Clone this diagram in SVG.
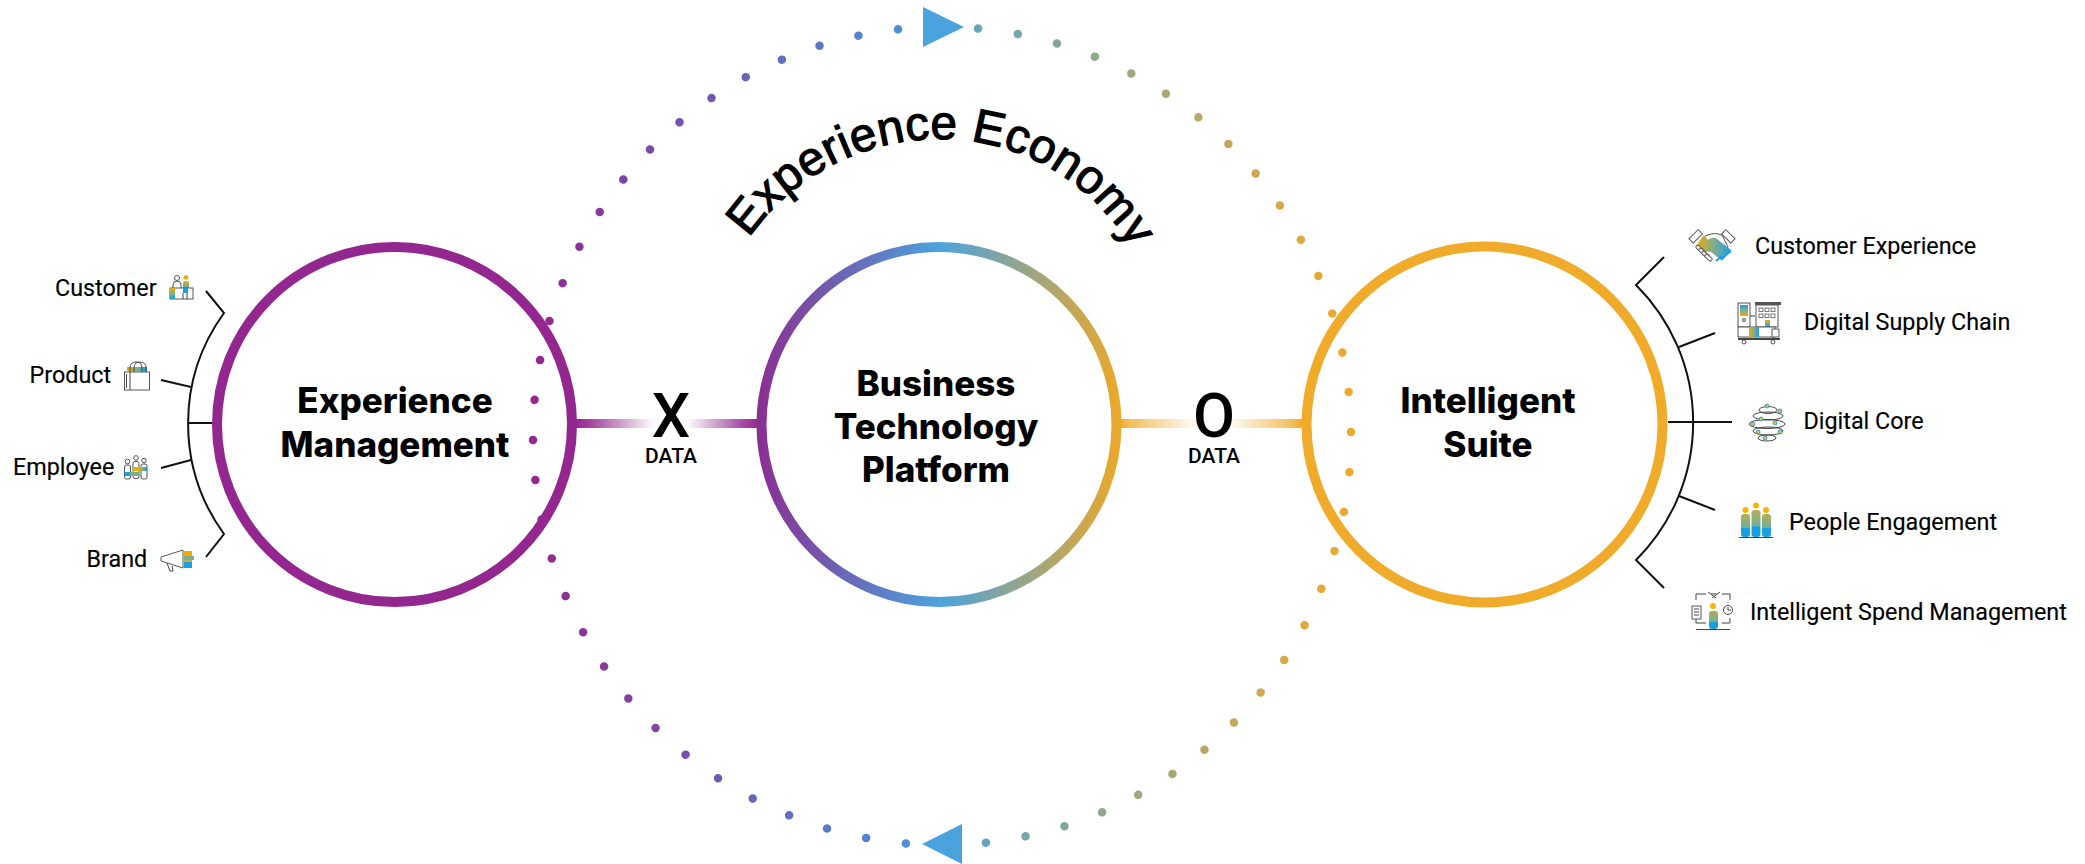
<svg xmlns="http://www.w3.org/2000/svg" width="2085" height="864" viewBox="0 0 2085 864">
<style>
.lab{font-family:"Roboto","Liberation Sans",sans-serif;font-size:23.35px;fill:#000;stroke:#000;stroke-width:.15}
.big{font-family:"Inter","Liberation Sans",sans-serif;font-size:35px;font-weight:800;fill:#000;text-anchor:middle}
.op{font-family:"Roboto","Liberation Sans",sans-serif;font-size:61px;font-weight:500;fill:#000;text-anchor:middle}
.dat{font-family:"Roboto","Liberation Sans",sans-serif;font-size:21px;font-weight:500;fill:#000;text-anchor:middle}
.arc{font-family:"Liberation Sans",Arial,sans-serif;font-size:47.5px;letter-spacing:.3px;fill:#000;stroke:#000;stroke-width:1.2}
.br{fill:none;stroke:#111;stroke-width:2}
.ic{fill:#fff;stroke:#555;stroke-width:1}
.ink{fill:none;stroke:#444;stroke-width:1}
.tri{fill:#4ba3de}
</style>
<defs>
<linearGradient id="ringG" gradientUnits="userSpaceOnUse" x1="758" y1="0" x2="1120" y2="0"><stop offset="0" stop-color="#8a2f92"/><stop offset=".5" stop-color="#4ba3de"/><stop offset="1" stop-color="#eba829"/></linearGradient>
<linearGradient id="dotG" gradientUnits="userSpaceOnUse" x1="533" y1="0" x2="1352" y2="0"><stop offset="0" stop-color="#93278f"/><stop offset=".45" stop-color="#4b8fd6"/><stop offset=".55" stop-color="#66a6b8"/><stop offset="1" stop-color="#f0a92b"/></linearGradient>
<linearGradient id="xL"><stop offset="0" stop-color="#93278f"/><stop offset=".2" stop-color="#93278f" stop-opacity=".8"/><stop offset=".8" stop-color="#93278f" stop-opacity=".03"/><stop offset="1" stop-color="#93278f" stop-opacity="0"/></linearGradient>
<linearGradient id="xR" x1="1" x2="0"><stop offset="0" stop-color="#93278f"/><stop offset=".2" stop-color="#93278f" stop-opacity=".8"/><stop offset=".8" stop-color="#93278f" stop-opacity=".03"/><stop offset="1" stop-color="#93278f" stop-opacity="0"/></linearGradient>
<linearGradient id="oL"><stop offset="0" stop-color="#f0ab2a"/><stop offset=".12" stop-color="#f0ab2a" stop-opacity=".75"/><stop offset=".75" stop-color="#f0ab2a" stop-opacity=".1"/><stop offset="1" stop-color="#f0ab2a" stop-opacity="0"/></linearGradient>
<linearGradient id="oR" x1="1" x2="0"><stop offset="0" stop-color="#f0ab2a"/><stop offset=".12" stop-color="#f0ab2a" stop-opacity=".75"/><stop offset=".75" stop-color="#f0ab2a" stop-opacity=".1"/><stop offset="1" stop-color="#f0ab2a" stop-opacity="0"/></linearGradient>
<linearGradient id="v" x1="0" y1="0" x2="0" y2="1"><stop offset="0" stop-color="#f0ab00"/><stop offset=".5" stop-color="#7fae8c"/><stop offset="1" stop-color="#1a9fe0"/></linearGradient>
<linearGradient id="h"><stop offset="0" stop-color="#f0ab00"/><stop offset=".5" stop-color="#7fae8c"/><stop offset="1" stop-color="#1a9fe0"/></linearGradient>
<linearGradient id="p" x1="0" y1="0" x2="0" y2="1"><stop offset="0" stop-color="#b5ae55"/><stop offset=".6" stop-color="#6fb09a"/><stop offset=".62" stop-color="#1a9fe0"/><stop offset="1" stop-color="#1a9fe0"/></linearGradient>
<path id="arcP" d="M749 238 A232 232 0 0 1 940 139 A222 222 0 0 1 1155 306"/>
</defs>
<rect width="2085" height="864" fill="#fff"/>

<g id="connectors">
<rect x="576" y="419" width="95" height="9" fill="url(#xL)"/>
<rect x="671" y="419" width="87" height="9" fill="url(#xR)"/>
<rect x="1120" y="419" width="93" height="9" fill="url(#oL)"/>
<rect x="1213" y="419" width="89" height="9" fill="url(#oR)"/>
<path class="br" d="M206 291 L224 313 A188 188 0 0 0 224 534 L206 557"/>
<path class="br" d="M188 423H212M161 380L191 387M161 468L191 460"/>
<path class="br" d="M1664 257 L1636 285 A194 194 0 0 1 1636 560 L1664 588"/>
<path class="br" d="M1668 422H1732M1679 347L1715 333M1679 496L1715 510"/>
</g>

<g id="node-experience-management">
<circle cx="394.500" cy="424.500" r="177.500" fill="#fff" stroke="#93278f" stroke-width="10"/>
<text class="big"><tspan x="395" y="413">Experience</tspan><tspan x="395" y="457">Management</tspan></text>
</g>
<g id="node-business-technology-platform">
<circle cx="939" cy="424.500" r="177.500" fill="#fff" stroke="url(#ringG)" stroke-width="10"/>
<text class="big"><tspan x="936" y="396">Business</tspan><tspan x="936" y="439">Technology</tspan><tspan x="936" y="482">Platform</tspan></text>
</g>
<g id="node-intelligent-suite">
<circle cx="1484.500" cy="424.500" r="178" fill="#fff" stroke="#f0ab2a" stroke-width="10"/>
<text class="big"><tspan x="1488" y="413">Intelligent</tspan><tspan x="1488" y="457">Suite</tspan></text>
</g>

<g id="node-x-data"><text class="op" x="671" y="437">X</text><text class="dat" x="671" y="463">DATA</text></g>
<g id="node-o-data"><text class="op" x="1214" y="437">O</text><text class="dat" x="1214" y="463">DATA</text></g>

<g id="experience-cycle">
<circle cx="942" cy="436" r="409" fill="none" stroke="url(#dotG)" stroke-width="8.500" stroke-linecap="round" pathLength="64" stroke-dasharray="0 1" transform="rotate(-.55 942 436)"/>
<polygon class="tri" points="923,7 923,47 964,27"/>
<polygon class="tri" points="962,824 962,864 922,844"/>
</g>
<g id="node-experience-economy"><text class="arc"><textPath href="#arcP" startOffset="0">Experience Economy</textPath></text></g>

<g id="node-customer">
<text class="lab" x="55" y="296">Customer</text>
<circle class="ic" cx="177" cy="278" r="2.500"/><path class="ic" d="M173 288V285Q173 281 177 281T181 285V288"/>
<circle cx="186" cy="277.500" r="2.300" fill="#f0ab00"/><rect x="183" y="281" width="6" height="10" rx="2" fill="url(#v)"/>
<rect class="ic" x="170" y="288" width="23" height="11"/><rect x="170" y="288" width="5" height="11" fill="url(#v)"/><rect x="183" y="288" width="5" height="5" fill="#1a9fe0"/><path class="ink" d="M183 293V299M187 293V299"/>
</g>
<g id="node-product">
<text class="lab" x="29.500" y="383">Product</text>
<rect class="ic" x="124.500" y="372" width="25" height="18"/><path class="ink" d="M130 372V390M126.500 374V388"/>
<rect x="127" y="367" width="20" height="5" fill="url(#h)"/><path class="ink" d="M130 372V368Q130 362 136 362T142 368V372M134 372V368Q134 362 140 362T146 368V372"/>
</g>
<g id="node-employee">
<text class="lab" x="13" y="475">Employee</text>
<circle class="ic" cx="127.500" cy="461.500" r="2.300"/><circle class="ic" cx="136" cy="458" r="2.300"/><circle class="ic" cx="144" cy="460.500" r="2.300"/>
<rect class="ic" x="124.500" y="465" width="6" height="14" rx="2"/><rect class="ic" x="133" y="461.500" width="6" height="17" rx="2"/><rect class="ic" x="141" y="464" width="6" height="15" rx="2"/>
<rect x="124.500" y="472" width="9" height="4" fill="#1a9fe0"/><rect x="130" y="472" width="9" height="4" fill="#7fae8c"/><rect x="133" y="467" width="6" height="4" fill="#f0ab00"/><rect x="139" y="467" width="8" height="4" fill="url(#h)"/>
</g>
<g id="node-brand">
<text class="lab" x="86.500" y="567">Brand</text>
<path class="ic" d="M161 557L183 550V568L161 561Z"/><path class="ink" d="M167 563L170 571H173L172 566"/>
<rect x="184" y="551" width="8" height="5" fill="#f0ab00"/><rect x="184" y="556" width="10" height="4" fill="#7fae8c"/><rect x="184" y="560" width="8" height="2" fill="#c0b040"/><rect x="184" y="562" width="8" height="6" fill="#1a9fe0"/>
</g>

<g id="node-customer-experience">
<text class="lab" x="1755" y="254">Customer Experience</text>
<path d="M1702 238Q1712 231 1722 235L1728 247L1716 254L1706 247Z" fill="#fff" stroke="#555"/>
<path d="M1696 246L1704 235L1708 240Q1713 236 1717 239L1731 250L1721 260L1711 252L1703 251Z" fill="url(#h)"/>
<rect class="ic" x="1689" y="233" width="13" height="6" transform="rotate(-45 1696 236)"/><rect class="ic" x="1722" y="233" width="13" height="6" transform="rotate(45 1728 236)"/>
<g class="ic"><rect x="1696" y="247" width="8" height="3.500" rx="1.500" transform="rotate(40 1700 248)"/><rect x="1699" y="250" width="8" height="3.500" rx="1.500" transform="rotate(40 1703 251)"/><rect x="1702" y="253" width="8" height="3.500" rx="1.500" transform="rotate(40 1706 254)"/><rect x="1705" y="256" width="8" height="3.500" rx="1.500" transform="rotate(40 1709 257)"/></g>
<path d="M1716 261L1722 256M1721 260L1727 254M1725 256L1731 251" stroke="#1a9fe0" stroke-width="2" fill="none"/>
</g>
<g id="node-digital-supply-chain">
<text class="lab" x="1804" y="330">Digital Supply Chain</text>
<rect class="ic" x="1738" y="303" width="12" height="24"/><rect x="1740" y="305" width="8" height="11" fill="url(#v)" transform="rotate(180 1744 310.500)"/><circle class="ink" cx="1744" cy="320" r="1.500"/>
<path class="ink" d="M1750 316H1755"/>
<rect x="1755" y="302" width="26" height="3" fill="#555"/><rect class="ic" x="1756" y="305" width="22" height="22"/>
<g fill="#fff" stroke="#555" stroke-width=".8"><rect x="1759" y="308" width="4" height="3.500"/><rect x="1765" y="308" width="4" height="3.500"/><rect x="1771" y="308" width="4" height="3.500"/><rect x="1759" y="314" width="4" height="3.500"/><rect x="1765" y="314" width="4" height="3.500"/><rect x="1771" y="314" width="4" height="3.500"/></g>
<rect x="1765" y="320" width="5" height="7" fill="url(#v)"/>
<rect class="ic" x="1738" y="327" width="37" height="10"/><rect x="1749" y="327" width="10" height="10" fill="url(#h)"/><path class="ic" d="M1772 329H1779V337H1772Z"/>
<path d="M1738 339H1780" stroke="#444" stroke-width="2"/><circle class="ic" cx="1744" cy="342" r="2"/><circle class="ic" cx="1773" cy="342" r="2"/>
</g>
<g id="node-digital-core">
<text class="lab" x="1803.500" y="429">Digital Core</text>
<g class="ink"><ellipse cx="1768" cy="410" rx="9" ry="3.500"/><ellipse cx="1768" cy="416" rx="15" ry="4"/><ellipse cx="1767" cy="424" rx="18" ry="4.500"/><ellipse cx="1768" cy="431" rx="15" ry="4"/><ellipse cx="1767" cy="438" rx="9" ry="3"/></g>
<g fill="#e4c030" stroke="#36a3d9" stroke-width="1"><circle cx="1767" cy="406" r="2"/><circle cx="1780" cy="411" r="2"/><circle cx="1761" cy="419" r="2"/><circle cx="1775" cy="423" r="2"/><circle cx="1753" cy="424" r="2"/><circle cx="1780" cy="432" r="2"/><circle cx="1758" cy="432" r="2"/><circle cx="1765" cy="438" r="2"/></g>
</g>
<g id="node-people-engagement">
<text class="lab" x="1789" y="530">People Engagement</text>
<g fill="#f7b500"><circle cx="1745.500" cy="510" r="3"/><circle cx="1756" cy="505.500" r="3"/><circle cx="1766" cy="510" r="3"/></g>
<g fill="url(#p)"><rect x="1741" y="514" width="9" height="23" rx="3"/><rect x="1751.500" y="510" width="9" height="27" rx="3"/><rect x="1762" y="514" width="9" height="23" rx="3"/></g>
<path d="M1739 537.500H1773" stroke="#444" stroke-width="1"/>
</g>
<g id="node-intelligent-spend-management">
<text class="lab" x="1750" y="620">Intelligent Spend Management</text>
<path class="ink" d="M1696 600V594H1706M1722 594H1730V600M1696 618V623H1706M1722 623H1730V618"/>
<path class="ink" d="M1708 592L1716 598M1720 592L1712 598M1711 594H1717"/>
<rect class="ic" x="1692" y="606" width="9" height="13"/><path class="ink" d="M1694 609H1699M1694 612H1699M1694 615H1699"/>
<circle class="ink" cx="1728" cy="610" r="4.500"/><path class="ink" d="M1728 607V610H1731"/>
<circle cx="1713" cy="606" r="3" fill="#f7b500"/><rect x="1709" y="611" width="9" height="18" rx="3" fill="url(#p)"/>
<path d="M1696 629.500H1730" stroke="#444" stroke-width="1"/>
</g>
</svg>
